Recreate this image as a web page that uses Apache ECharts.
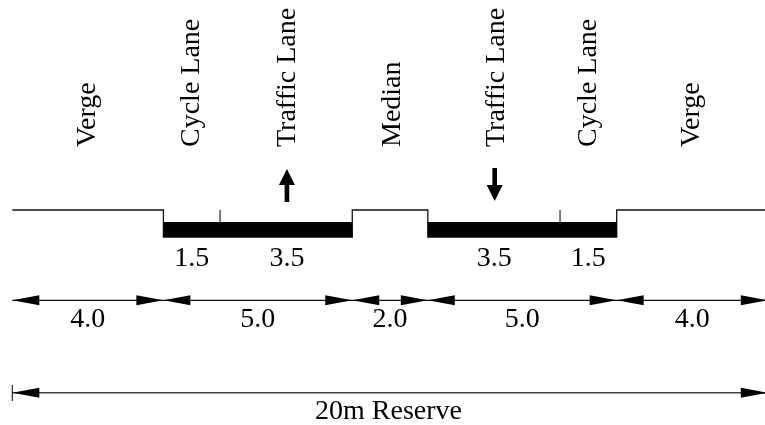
<!DOCTYPE html>
<html>
<head>
<meta charset="utf-8">
<style>html,body{margin:0;padding:0;background:#fff;overflow:hidden}#c{width:765px;height:425px}</style>
<script src="https://cdn.jsdelivr.net/npm/echarts@6/dist/echarts.min.js"></script>
</head>
<body>
<div id="c"></div>
<script>
// Cross-section in metres (x) and drawing levels (y, downwards)
const sectionNames = ['Verge','Cycle Lane','Traffic Lane','Median','Traffic Lane','Cycle Lane','Verge'];
const nameX = [1.99,4.76,7.3,10.06,12.81,15.27,17.98];
const nameBaseY = [147,147,147,147,147,147,147];
const surfaceLine = [[0,210],[4,210],[4,237],[9,237],[9,210],[11,210],[11,237],[16,237],[16,210],[20.1,210]];
const laneTicks = [[[5.5,210],[5.5,222]],[[14.5,210],[14.5,222]]];
const pavements = [[4,222,9,237],[11,222,16,237]];
const widthLabels = [['1.5',4.75,258.5],['3.5',7.27,258.5],['3.5',12.76,258.5],['1.5',15.25,258.5]];
const dimLabels = [['4.0',2,319.5],['5.0',6.5,319.5],['2.0',10,319.5],['5.0',13.5,319.5],['4.0',18,319.5]];
const totalLabel = [['20m Reserve',9.96,411.5]];
const dimY = 300.3;
const totalY = 392.7;
const dimEnds = [0,4,9,11,16,20];
const totalEnds = [0,20];
const reserveTick = [[0,385],[0,401]];
// Flow arrows: x, tip level, tail level
const flowArrows = [[7.27,169,202],[12.77,201,168]];

const FONT = '"Liberation Serif","Times New Roman",serif';
const TEXT_SIZE = 28;

function lineSeries(data, width, color){
  return {type:'line',data,symbol:'none',silent:true,animation:false,clip:false,
    lineStyle:{color:color||'#111',width,cap:'butt',join:'miter'},z:2};
}
function textSeries(rows, rotate){
  return {type:'custom',coordinateSystem:'cartesian2d',silent:true,animation:false,clip:false,z:5,
    data:rows.map(r=>({value:[r[1],r[2]],name:r[0]})),
    renderItem:(p,api)=>{
      const c=api.coord([api.value(0),api.value(1)]);
      return {type:'text',x:c[0],y:c[1],rotation:rotate?Math.PI/2:0,
        style:{text:rows[p.dataIndex][0],font:TEXT_SIZE+'px '+FONT,fill:'#000',
          align:rotate?'left':'center',verticalAlign:'middle'}};
    }};
}
// Dimension arrowheads: tip in data coordinates, direction +1/-1
const dimArrows = [];
dimEnds.forEach((x,i)=>{
  if(i>0) dimArrows.push([x,dimY,1]);
  if(i<dimEnds.length-1) dimArrows.push([x,dimY,-1]);
});
totalEnds.forEach((x,i)=>dimArrows.push([x,totalY,i?1:-1]));

const chart = echarts.init(document.getElementById('c'),null,{renderer:'canvas'});
chart.setOption({
  backgroundColor:'#fff',
  animation:false,
  grid:{left:12.3,top:0,right:-2.8,bottom:0,containLabel:false,outerBoundsMode:'none'},
  xAxis:{type:'value',min:0,max:20,show:false},
  yAxis:{type:'value',min:0,max:425,inverse:true,show:false},
  tooltip:{show:false},
  series:[
    lineSeries(surfaceLine,1.3),
    ...laneTicks.map(t=>lineSeries(t,1.1)),
    lineSeries([[0,dimY],[20,dimY]],1.3),
    lineSeries([[0,totalY],[20,totalY]],1.5,'#444'),
    lineSeries(reserveTick,1.1),
    {type:'custom',coordinateSystem:'cartesian2d',silent:true,animation:false,clip:false,z:3,
      data:pavements,
      renderItem:(p,api)=>{
        const a=api.coord([api.value(0),api.value(1)]),b=api.coord([api.value(2),api.value(3)]);
        return {type:'rect',shape:{x:a[0],y:a[1],width:b[0]-a[0],height:b[1]-a[1]},style:{fill:'#000'}};
      }},
    {type:'custom',coordinateSystem:'cartesian2d',silent:true,animation:false,clip:false,z:4,
      data:dimArrows,
      renderItem:(p,api)=>{
        const c=api.coord([api.value(0),api.value(1)]),d=api.value(2);
        return {type:'polygon',shape:{points:[[c[0],c[1]],[c[0]-d*27,c[1]-5],[c[0]-d*27,c[1]+5]]},style:{fill:'#000'}};
      }},
    {type:'custom',coordinateSystem:'cartesian2d',silent:true,animation:false,clip:false,z:4,
      data:flowArrows,
      renderItem:(p,api)=>{
        const t=api.coord([api.value(0),api.value(1)]),e=api.coord([api.value(0),api.value(2)]);
        const s=e[1]>t[1]?1:-1,x=t[0],y=t[1],hb=y+s*16;
        return {type:'polygon',shape:{points:[[x,y],[x+8,hb],[x+2.3,hb],[x+2.3,e[1]],[x-2.3,e[1]],[x-2.3,hb],[x-8,hb]]},style:{fill:'#000'}};
      }},
    textSeries(sectionNames.map((n,i)=>[n,nameX[i],nameBaseY[i]]),90),
    textSeries(widthLabels),
    textSeries(dimLabels),
    textSeries(totalLabel)
  ]
});
</script>
</body>
</html>
